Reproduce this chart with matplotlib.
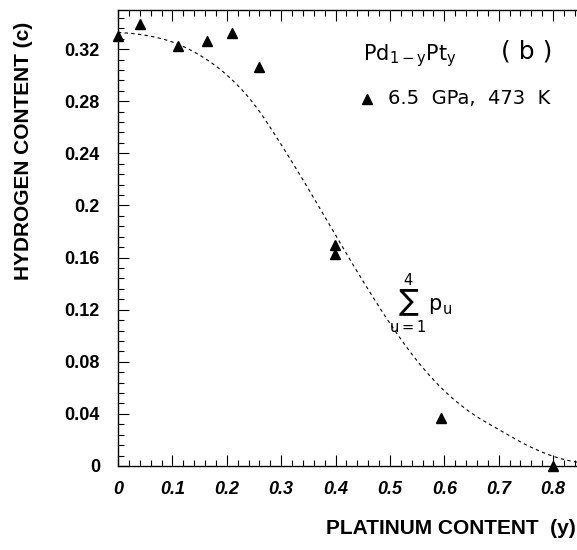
import numpy as np
import matplotlib
matplotlib.use('Agg')
import matplotlib.pyplot as plt
from matplotlib.ticker import MultipleLocator, FixedLocator

# measured points (6.5 GPa, 473 K)
pt_content = [0.0, 0.04, 0.11, 0.164, 0.21, 0.259, 0.399, 0.399, 0.594, 0.80]
h_content = [0.330, 0.339, 0.322, 0.326, 0.332, 0.306, 0.170, 0.163, 0.037, 0.0]

# dashed curve, sum of p_u
curve_x = [0.0, 0.05, 0.10, 0.15, 0.20, 0.25, 0.30, 0.35, 0.40, 0.45,
           0.50, 0.55, 0.60, 0.65, 0.70, 0.75, 0.80, 0.85]
curve_y = [0.333, 0.331, 0.326, 0.316, 0.301, 0.279, 0.247, 0.213, 0.177, 0.142,
           0.109, 0.080, 0.057, 0.040, 0.028, 0.016, 0.007, 0.002]

xticks = [0, 0.1, 0.2, 0.3, 0.4, 0.5, 0.6, 0.7, 0.8]
xticklabels = ['0', '0.1', '0.2', '0.3', '0.4', '0.5', '0.6', '0.7', '0.8']
yticks = [0, 0.04, 0.08, 0.12, 0.16, 0.2, 0.24, 0.28, 0.32]
yticklabels = ['0', '0.04', '0.08', '0.12', '0.16', '0.2', '0.24', '0.28', '0.32']

plt.rcParams['font.family'] = ['Liberation Sans', 'DejaVu Sans']

fig = plt.figure(figsize=(5.77, 5.5), dpi=100)
ax = fig.add_axes([118 / 577, 84 / 550, 459 / 577, 456 / 550])

# smooth the curve through the read points
xs = np.linspace(curve_x[0], curve_x[-1], 300)
ys = np.interp(xs, curve_x, curve_y)
ys = np.convolve(np.pad(ys, 8, mode='edge'), np.ones(17) / 17, mode='valid')
ax.plot(xs, ys, color='black', lw=0.8, dashes=(3, 3))

ax.plot(pt_content, h_content, linestyle='none', marker='^', color='black',
        markersize=7, clip_on=False, zorder=3)

ax.set_xlim(0, 0.844)
ax.set_ylim(0, 0.35)

ax.xaxis.set_major_locator(FixedLocator(xticks))
ax.set_xticklabels(xticklabels, fontsize=13, fontweight='bold', style='italic')
ax.yaxis.set_major_locator(FixedLocator(yticks))
ax.set_yticklabels(yticklabels, fontsize=13, fontweight='bold')
ax.xaxis.set_minor_locator(MultipleLocator(0.02))
ax.yaxis.set_minor_locator(MultipleLocator(0.008))
ax.tick_params(which='both', direction='in', top=True, right=False, width=0.8)
ax.tick_params(which='major', length=8)
ax.tick_params(which='minor', length=4)
ax.tick_params(axis='y', pad=13)
ax.tick_params(axis='x', pad=11)
ax.spines['right'].set_visible(False)
for s in ['left', 'bottom', 'top']:
    ax.spines[s].set_linewidth(1.0)

fig.text(0.997, 1 - 529 / 550, 'PLATINUM CONTENT  (y)', ha='right', va='center',
         fontsize=15, fontweight='bold')
fig.text(24 / 577, 1 - 151 / 550, 'HYDROGEN CONTENT (c)', ha='center', va='center',
         rotation=90, fontsize=15, fontweight='bold')

# legend-like annotations
lab_font = 'DejaVu Sans'
ax.text(0.450, 0.315, r'Pd$_{\mathsf{1-y}}$Pt$_{\mathsf{y}}$', fontsize=15,
        ha='left', va='center', family=lab_font)
ax.text(0.705, 0.318, '( b )', fontsize=18, ha='left', va='center', family=lab_font)
ax.plot([0.457], [0.282], marker='^', color='black', markersize=7, linestyle='none')
ax.text(0.497, 0.282, '6.5  GPa,  473  K', fontsize=14, ha='left', va='center',
        family=lab_font)
ax.text(0.557, 0.125, r'$\sum_{\mathsf{u=1}}^{\mathsf{4}}\,\mathsf{p}_{\mathsf{u}}$',
        fontsize=15, ha='center', va='center')

fig.savefig('out.png', dpi=100)
